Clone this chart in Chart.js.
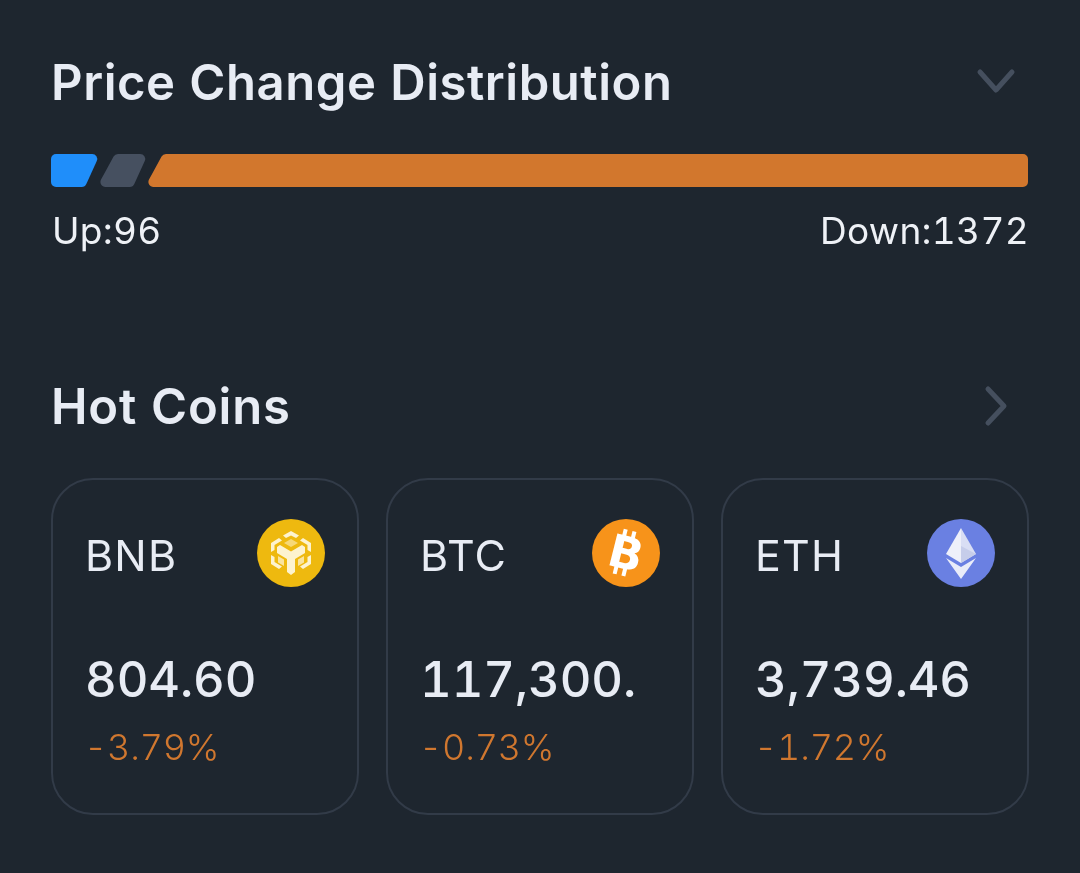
<!DOCTYPE html>
<html><head><meta charset="utf-8">
<script src="https://cdn.jsdelivr.net/npm/chart.js@4"></script>
<style>
html,body{margin:0;padding:0;background:#1e262f;width:1080px;height:873px;overflow:hidden}
body{position:relative;font-family:Inter,sans-serif;color:#e8ecf4;font-variant-numeric:tabular-nums;font-feature-settings:"tnum" 1}
.t{position:absolute;white-space:nowrap;line-height:1}
#title{left:51px;top:58px;font-size:49px;font-weight:600;letter-spacing:.55px}
#hot{left:51px;top:382px;font-size:49px;font-weight:600;letter-spacing:.8px}
#up{left:52px;top:212px;font-size:37px;color:#eef1f6;letter-spacing:.3px}
#down{right:51px;top:212px;font-size:37px;color:#eef1f6;letter-spacing:.3px}
#wrap{position:absolute;left:0;top:0;width:1080px;height:873px}
.card{position:absolute;top:478px;width:304px;height:333px;border:2px solid #323b48;border-radius:42px}
.sym{left:32px;top:54px;font-size:43px;letter-spacing:1.2px}
.price{left:32px;top:175px;font-size:49px;font-weight:500;letter-spacing:-.1px}
.chg{left:31px;top:249px;font-size:36px;color:#d0772f;font-weight:300;letter-spacing:-.2px}
.icon{position:absolute;left:204px;top:39px;width:68px;height:68px}
svg.ch{position:absolute;overflow:visible}
</style></head><body>
<div id="wrap"><canvas id="c"></canvas></div>
<div class="t" id="title">Price Change Distribution</div>
<div class="t" id="up"></div><div class="t" id="down"></div>
<div class="t" id="hot">Hot Coins</div>
<svg class="ch" style="left:0;top:0" width="1080" height="873">
<path d="M980 72 L996 90 L1012 72" fill="none" stroke="#454f5e" stroke-width="5" stroke-linecap="round" stroke-linejoin="round"/>
<path d="M988 389 L1004 406 L988 423" fill="none" stroke="#454f5e" stroke-width="5" stroke-linecap="round" stroke-linejoin="round"/>
</svg>
<div id="cards"></div>
<script>
const segmentNames=['Up','Flat','Down'];
const upCount=96;
const downCount=1372;
const upShare=[4.81];
const flatShare=[4.91];
const downShare=[90.28];
const segmentColors=['#1f8efa','#465060','#d2772d'];
const coinNames=['BNB','BTC','ETH'];
const coinPrices=['804.60','117,300.','3,739.46'];
const coinChanges=['-3.79%','-0.73%','-1.72%'];

document.getElementById('up').textContent='Up:'+upCount;
document.getElementById('down').textContent='Down:'+downCount;

const icons={
BNB:`<svg class="icon" viewBox="0 0 68 68"><circle cx="34" cy="34" r="34" fill="#eeb90f"/><g fill="#fdf3cf"><path d="M34 12 L42 16.5 L39 19 L34 16.5 L29 19 L26 16.5 Z"/><path d="M46 19 L54 24 V33 L50.5 31 V26 L43 21.5 Z"/><path d="M22 19 L14 24 V33 L17.5 31 V26 L25 21.5 Z"/><path d="M14 36 L17.5 38 V43 L25 47.5 L22 50 L14 45 Z"/><path d="M54 36 L50.5 38 V43 L43 47.5 L46 50 L54 45 Z"/><path d="M34 20 L41 24 L34 28 L27 24 Z" fill-opacity=".55"/><path d="M23 26 L34 32.5 L45 26 L48 28 V34 L38 40 V53 L34 56 L30 53 V40 L20 34 V28 Z"/><path d="M21 37 L27 40.5 V47 L21 43.5 Z" fill-opacity=".75"/><path d="M47 37 L41 40.5 V47 L47 43.5 Z" fill-opacity=".75"/></g></svg>`,
BTC:`<svg class="icon" viewBox="0 0 68 68"><circle cx="34" cy="34" r="34" fill="#f7931a"/><g transform="rotate(14 34 34)"><text x="34" y="50" text-anchor="middle" font-family="DejaVu Sans" font-weight="700" font-size="45" fill="#fff" aria-hidden="true">B</text><path d="M28 11v8M37 11v8M28 49v8M37 49v8" stroke="#fff" stroke-width="4"/></g></svg>`,
ETH:`<svg class="icon" viewBox="0 0 68 68"><circle cx="34" cy="34" r="34" fill="#6a80e2"/><path d="M34 9 L19 35 L34 44 Z" fill="#eef0fa"/><path d="M34 9 L49 35 L34 44 Z" fill="#d9def4"/><path d="M34 27 L49 35 L34 44 Z" fill="#c6cdea"/><path d="M19 39 L34 48 L49 39 L34 60 Z" fill="#e9ecf9"/></svg>`};
const lefts=[51,386,721];
const host=document.getElementById('cards');
coinNames.forEach((n,i)=>{
  const d=document.createElement('div');d.className='card';d.style.left=lefts[i]+'px';
  d.innerHTML=`<div class="t sym">${n}</div>${icons[n]}<div class="t price">${coinPrices[i]}</div><div class="t chg">${coinChanges[i]}</div>`;
  host.appendChild(d);
});

function poly(ctx,pts,r){
  ctx.beginPath();
  const n=pts.length;
  const a=pts[n-1],b=pts[0];
  ctx.moveTo((a[0]+b[0])/2,(a[1]+b[1])/2);
  for(let i=0;i<n;i++){const p=pts[i],q=pts[(i+1)%n];ctx.arcTo(p[0],p[1],q[0],q[1],r);}
  ctx.closePath();
}
const slanted={id:'slanted',beforeDatasetDraw(chart,args){
  const ds=args.index, last=chart.data.datasets.length-1;
  const ctx=chart.ctx;
  args.meta.data.forEach(el=>{
    const {x,y,base,height}=el.getProps(['x','y','base','height'],true);
    const t=y-height/2,b=y+height/2;
    const pts=[];
    if(ds===0){pts.push([base,t],[x+2,t],[x-13,b],[base,b]);}
    else{
      pts.push([base+17,t]);
      if(ds===last){pts.push([x,t],[x,b]);}
      else{pts.push([x+2,t],[x-13,b]);}
      pts.push([base-1,b]);
    }
    ctx.save();ctx.fillStyle=segmentColors[ds];poly(ctx,pts,5);ctx.fill();ctx.restore();
  });
  return false;
}};
new Chart(document.getElementById('c'),{
  type:'bar',
  data:{labels:['Price Change'],datasets:[
    {label:segmentNames[0],data:upShare,backgroundColor:segmentColors[0]},
    {label:segmentNames[1],data:flatShare,backgroundColor:segmentColors[1]},
    {label:segmentNames[2],data:downShare,backgroundColor:segmentColors[2]}
  ]},
  options:{
    indexAxis:'y',responsive:true,maintainAspectRatio:false,animation:false,
    layout:{padding:{left:51,right:52,top:154,bottom:686}},
    datasets:{bar:{barPercentage:1,categoryPercentage:1}},
    scales:{x:{stacked:true,min:0,max:100,display:false},y:{stacked:true,display:false}},
    plugins:{legend:{display:false},tooltip:{enabled:false}}
  },
  plugins:[slanted]
});
</script>
</body></html>
